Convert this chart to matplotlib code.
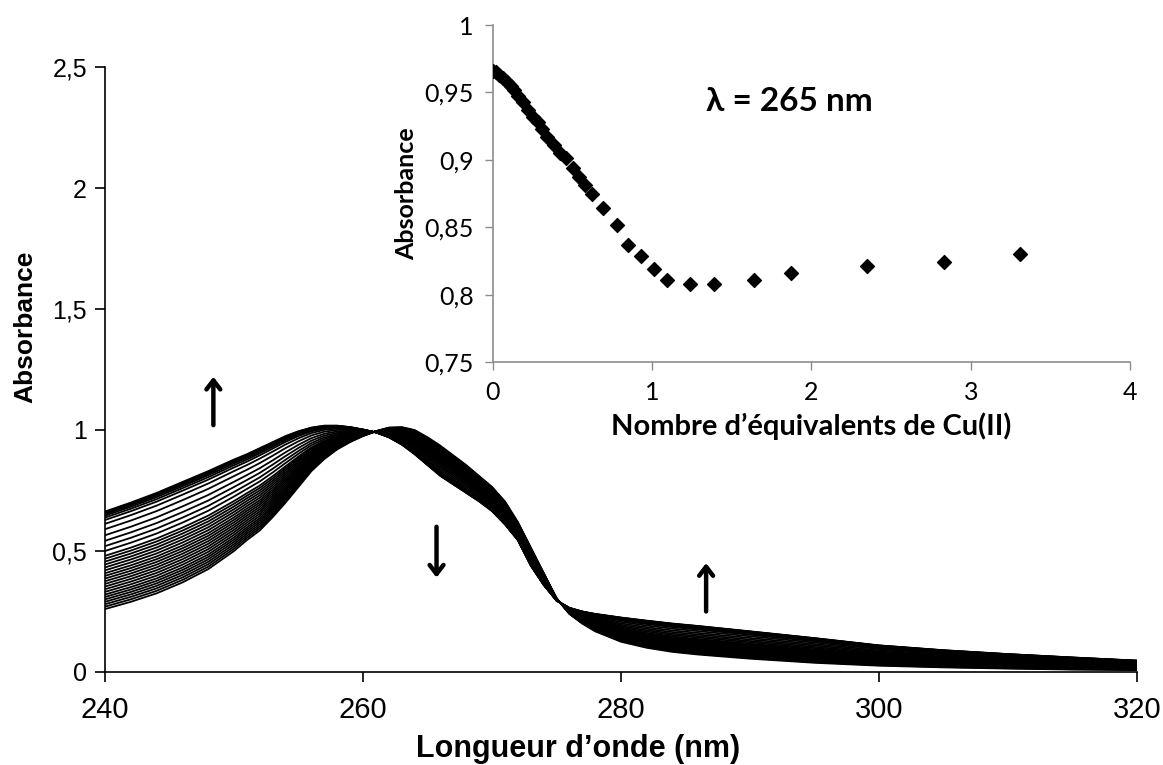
"""UV-vis titration spectra with Cu(II), inset: absorbance at 265 nm."""
import matplotlib
matplotlib.use("Agg")
import matplotlib.pyplot as plt
import numpy as np

# ── main panel: spectra (extreme spectra) ──────────────────────────────────
WAVELENGTH = [240, 242, 244, 246, 248, 250, 251, 252, 253, 254, 255, 256, 257,
              258, 259, 260, 261, 262, 263, 264, 265, 266, 267, 268, 269, 270,
              271, 272, 273, 274, 275, 276, 277, 278, 280, 282, 284, 286, 290,
              295, 300, 305, 310, 315, 320]
SPEC_START = [0.260, 0.290, 0.325, 0.370, 0.425, 0.500, 0.545, 0.585, 0.640,
              0.700, 0.765, 0.830, 0.880, 0.920, 0.950, 0.975, 0.995, 1.010,
              1.012, 1.000, 0.970, 0.935, 0.895, 0.855, 0.810, 0.765, 0.705,
              0.620, 0.515, 0.410, 0.305, 0.240, 0.200, 0.168, 0.125, 0.100,
              0.083, 0.072, 0.055, 0.038, 0.026, 0.019, 0.014, 0.010, 0.008]
SPEC_END = [0.663, 0.700, 0.740, 0.785, 0.830, 0.878, 0.900, 0.925, 0.950,
            0.975, 0.995, 1.010, 1.018, 1.018, 1.012, 1.002, 0.990, 0.970,
            0.940, 0.900, 0.855, 0.810, 0.775, 0.740, 0.705, 0.665, 0.610,
            0.545, 0.440, 0.360, 0.295, 0.265, 0.250, 0.240, 0.225, 0.212,
            0.200, 0.190, 0.168, 0.140, 0.110, 0.090, 0.074, 0.060, 0.047]
# absorbance of each recorded spectrum at 240 nm (one per Cu(II) addition)
A240 = [0.260, 0.270, 0.280, 0.290, 0.300, 0.310, 0.320, 0.331, 0.342, 0.353,
        0.364, 0.375, 0.386, 0.397, 0.408, 0.420, 0.432, 0.444, 0.456, 0.468,
        0.480, 0.500, 0.520, 0.542, 0.565, 0.590, 0.612, 0.628, 0.638, 0.646,
        0.652, 0.657, 0.660, 0.663]

# ── inset: absorbance at 265 nm vs equivalents ─────────────────────────────
EQUIV = [0.0, 0.02, 0.04, 0.06, 0.09, 0.11, 0.13, 0.16, 0.19, 0.22, 0.25, 0.28,
         0.31, 0.34, 0.38, 0.42, 0.46, 0.50, 0.54, 0.58, 0.62, 0.69, 0.78, 0.85,
         0.93, 1.01, 1.09, 1.24, 1.39, 1.64, 1.87, 2.35, 2.83, 3.31]
ABS265 = [0.966, 0.965, 0.963, 0.961, 0.958, 0.955, 0.952, 0.947, 0.943, 0.937,
          0.932, 0.928, 0.923, 0.917, 0.911, 0.905, 0.901, 0.894, 0.887, 0.881,
          0.875, 0.864, 0.852, 0.837, 0.829, 0.819, 0.811, 0.808, 0.808, 0.811,
          0.816, 0.821, 0.824, 0.830]

MAIN_YTICKS = [0, 0.5, 1, 1.5, 2, 2.5]
MAIN_YLABELS = ["0", "0,5", "1", "1,5", "2", "2,5"]
MAIN_XTICKS = [240, 260, 280, 300, 320]
INS_YTICKS = [0.75, 0.8, 0.85, 0.9, 0.95, 1.0]
INS_YLABELS = ["0,75", "0,8", "0,85", "0,9", "0,95", "1"]
INS_XTICKS = [0, 1, 2, 3, 4]

MAIN_FONT = ["Liberation Sans", "DejaVu Sans"]
INS_FONT = ["Lato", "DejaVu Sans"]

fig = plt.figure(figsize=(11.63, 7.65), dpi=100)

# ── main axes ──────────────────────────────────────────────────────────────
ax = fig.add_axes([0.0903, 0.1216, 0.8873, 0.7908])
wl = np.array(WAVELENGTH)
s0 = np.array(SPEC_START)
s1 = np.array(SPEC_END)
a = np.array(A240)
frac = (a - a[0]) / (a[-1] - a[0])
for f in frac:
    ax.plot(wl, s0 + f * (s1 - s0), color="black", lw=1.3)

ax.set_xlim(240, 320)
ax.set_ylim(0, 2.5)
ax.set_xticks(MAIN_XTICKS)
ax.set_xticklabels([str(t) for t in MAIN_XTICKS], fontsize=21, family=MAIN_FONT)
ax.set_yticks(MAIN_YTICKS)
ax.set_yticklabels(MAIN_YLABELS, fontsize=18, family=MAIN_FONT)
ax.tick_params(direction="out", length=7, width=1.2, color="black", pad=6)
ax.tick_params(axis="x", pad=10)
for side in ("top", "right"):
    ax.spines[side].set_visible(False)
for side in ("left", "bottom"):
    ax.spines[side].set_linewidth(1.2)
ax.set_xlabel("Longueur d\u2019onde (nm)", fontsize=22, fontweight="bold",
              family=MAIN_FONT)
ax.set_ylabel("Absorbance", fontsize=19, fontweight="bold", family=MAIN_FONT)
ax.xaxis.set_label_coords(0.458, -0.103)
ax.yaxis.set_label_coords(-0.066, 0.57)

arrow_kw = dict(arrowstyle="->,head_width=0.5,head_length=0.65", lw=3.2,
                color="black", shrinkA=0, shrinkB=0)
ax.annotate("", xy=(248.4, 1.22), xytext=(248.4, 1.02), arrowprops=arrow_kw)
ax.annotate("", xy=(265.7, 0.39), xytext=(265.7, 0.60), arrowprops=arrow_kw)
ax.annotate("", xy=(286.6, 0.45), xytext=(286.6, 0.25), arrowprops=arrow_kw)

# ── inset ──────────────────────────────────────────────────────────────────
ins = fig.add_axes([0.4239, 0.5268, 0.5477, 0.4405])
ins.patch.set_alpha(0)
ins.scatter(EQUIV, ABS265, marker="D", s=50, color="black", zorder=3)
ins.set_xlim(0, 4)
ins.set_ylim(0.75, 1.0)
ins.set_xticks(INS_XTICKS)
ins.set_xticklabels([str(t) for t in INS_XTICKS], fontsize=18, family=INS_FONT)
ins.set_yticks(INS_YTICKS)
ins.set_yticklabels(INS_YLABELS, fontsize=18, family=INS_FONT)
ins.tick_params(direction="out", length=6, width=1.0, color="#8c8c8c", pad=8)
for side in ("top", "right"):
    ins.spines[side].set_visible(False)
for side in ("left", "bottom"):
    ins.spines[side].set_color("#8c8c8c")
    ins.spines[side].set_linewidth(1.2)
ins.set_xlabel("Nombre d\u2019\u00e9quivalents de Cu(II)", fontsize=21,
               fontweight="bold", family=INS_FONT, labelpad=6)
ins.set_ylabel("Absorbance", fontsize=18, fontweight="bold",
               family=INS_FONT, labelpad=4)
ins.text(1.86, 0.943, "\u03bb = 265 nm", fontsize=24, fontweight="bold",
         family=INS_FONT, ha="center", va="center")

fig.savefig("out.png", dpi=100)
